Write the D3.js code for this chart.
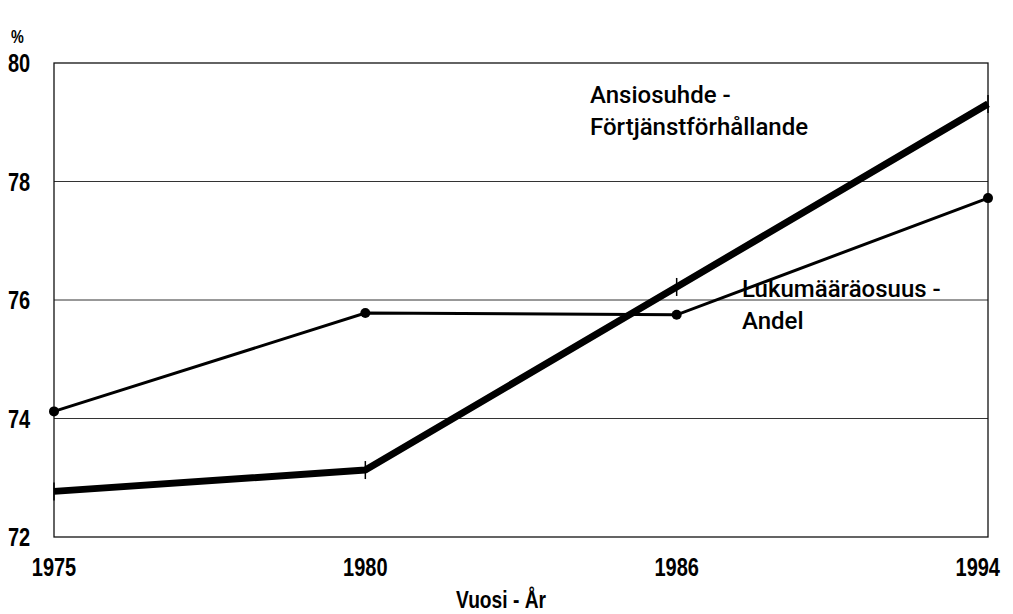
<!DOCTYPE html>
<meta charset="utf-8">
<head>
<title>Ansiosuhde ja lukumääräosuus</title>
<script src="https://cdn.jsdelivr.net/npm/d3@7"></script>
<style>
body { margin: 0; background: #fff; }
text { font-family: "Liberation Sans", Arial, sans-serif; fill: #000; }
.tick-label { font-size: 25px; font-weight: bold; }
.note { font-family: Roboto, "Liberation Sans", sans-serif; font-size: 24px; font-weight: 500; }
</style>
</head>
<body>
<script>
// Data
const years = ["1975", "1980", "1986", "1994"];
const earnings = [72.77, 73.13, 76.22, 79.31];   // Ansiosuhde - Förtjänstförhållande
const share = [74.12, 75.78, 75.75, 77.72];      // Lukumääräosuus - Andel
const yTicks = [72, 74, 76, 78, 80];

const width = 1013, height = 614;
const margin = {top: 63, right: 25, bottom: 77, left: 54};
const squeeze = 0.8; // condensed look for the tick labels

const svg = d3.select("body").append("svg")
    .attr("width", width)
    .attr("height", height);

const x = d3.scalePoint()
    .domain(years)
    .range([margin.left, width - margin.right]);

const y = d3.scaleLinear()
    .domain([72, 80])
    .range([height - margin.bottom, margin.top]);

// Gridlines
svg.append("g")
    .selectAll("line")
    .data(yTicks.filter(d => d > 72 && d < 80))
    .enter().append("line")
    .attr("x1", margin.left)
    .attr("x2", width - margin.right)
    .attr("y1", d => y(d))
    .attr("y2", d => y(d))
    .attr("stroke", "#333")
    .attr("stroke-width", 1);

// Frame
svg.append("rect")
    .attr("x", margin.left)
    .attr("y", margin.top)
    .attr("width", width - margin.left - margin.right)
    .attr("height", height - margin.top - margin.bottom)
    .attr("fill", "none")
    .attr("stroke", "#111")
    .attr("stroke-width", 1.3);

// Y tick labels
svg.append("g")
    .selectAll("text")
    .data(yTicks)
    .enter().append("text")
    .attr("class", "tick-label")
    .attr("transform", d => `translate(8,${y(d) + 9}) scale(${squeeze},1)`)
    .text(d => d);

svg.append("text")
    .attr("class", "tick-label")
    .attr("transform", `translate(11,43) scale(${squeeze},1)`)
    .style("font-size", "18px")
    .text("%");

// X tick labels
svg.append("g")
    .selectAll("text")
    .data(years)
    .enter().append("text")
    .attr("class", "tick-label")
    .attr("transform", (d, i) => {
        const xx = i === years.length - 1 ? 1000 : x(d);
        return `translate(${xx},${height - margin.bottom + 39}) scale(${squeeze},1)`;
    })
    .attr("text-anchor", (d, i) => i === years.length - 1 ? "end" : "middle")
    .text(d => d);

svg.append("text")
    .attr("class", "tick-label")
    .attr("transform", `translate(501,608) scale(${squeeze},1)`)
    .attr("text-anchor", "middle")
    .style("font-size", "24px")
    .text("Vuosi - År");

const line = d3.line()
    .x((d, i) => x(years[i]))
    .y(d => y(d));

// Share line (thin with dots)
svg.append("path")
    .datum(share)
    .attr("d", line)
    .attr("fill", "none")
    .attr("stroke", "#000")
    .attr("stroke-width", 3);

svg.append("g")
    .selectAll("circle")
    .data(share)
    .enter().append("circle")
    .attr("cx", (d, i) => x(years[i]))
    .attr("cy", d => y(d))
    .attr("r", 5)
    .attr("fill", "#000");

// Earnings line (thick with cross ticks)
svg.append("path")
    .datum(earnings)
    .attr("d", line)
    .attr("fill", "none")
    .attr("stroke", "#000")
    .attr("stroke-width", 7)
    .attr("stroke-linejoin", "round");

svg.append("g")
    .selectAll("line")
    .data(earnings)
    .enter().append("line")
    .attr("x1", (d, i) => x(years[i]))
    .attr("x2", (d, i) => x(years[i]))
    .attr("y1", d => y(d) - 9)
    .attr("y2", d => y(d) + 9)
    .attr("stroke", "#000")
    .attr("stroke-width", 1.5);

// Annotations
const notes = [
    {text: "Ansiosuhde -", x: 590, y: 103},
    {text: "Förtjänstförhållande", x: 590, y: 135},
    {text: "Lukumääräosuus -", x: 742, y: 297},
    {text: "Andel", x: 742, y: 329}
];
svg.append("g")
    .selectAll("text")
    .data(notes)
    .enter().append("text")
    .attr("class", "note")
    .attr("x", d => d.x)
    .attr("y", d => d.y)
    .text(d => d.text);
</script>
</body>
</html>
